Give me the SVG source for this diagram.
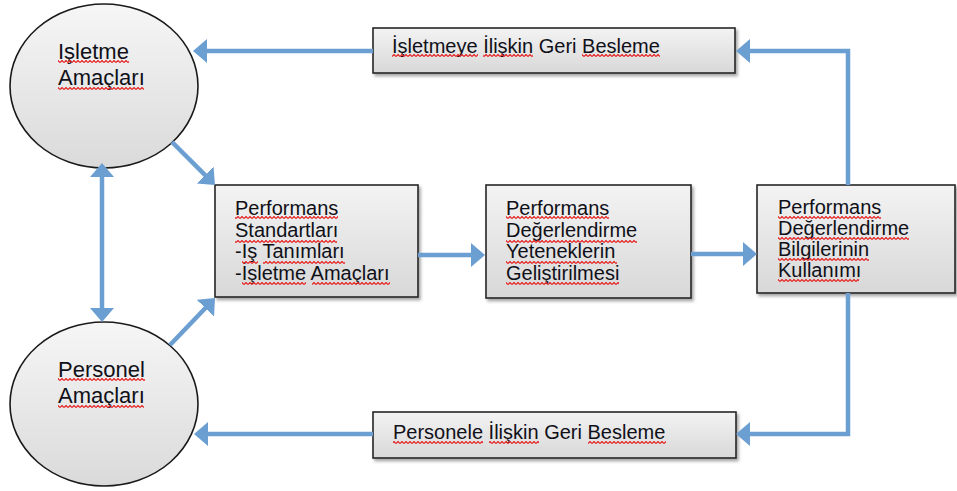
<svg xmlns="http://www.w3.org/2000/svg" width="957" height="491" viewBox="0 0 957 491">
<defs>
<linearGradient id="gEll" x1="0" y1="0" x2="0" y2="1">
<stop offset="0" stop-color="#f6f6f6"/><stop offset="1" stop-color="#dadada"/>
</linearGradient>
<linearGradient id="gBox" x1="0" y1="0" x2="0" y2="1">
<stop offset="0" stop-color="#f3f3f3"/><stop offset="1" stop-color="#d8d8d8"/>
</linearGradient>
<filter id="sh" x="-10%" y="-10%" width="130%" height="140%">
<feDropShadow dx="2" dy="2.5" stdDeviation="1.5" flood-color="#000" flood-opacity="0.35"/>
</filter>
<pattern id="sq" patternUnits="userSpaceOnUse" width="4" height="3">
<path d="M0,2.5 L2,0.5 L4,2.5" fill="none" stroke="#e52222" stroke-width="1.2"/>
</pattern>
<marker id="ah" markerUnits="userSpaceOnUse" markerWidth="16" markerHeight="26" refX="4" refY="12" orient="auto-start-reverse">
<path d="M0,0 L14,12 L0,24 Z" fill="#6b9fd2"/>
</marker>
</defs>
<style>
.ell{fill:url(#gEll);stroke:#1a1a1a;stroke-width:1.6}
.box{fill:url(#gBox);stroke:#262626;stroke-width:1.6;filter:url(#sh)}
.t{font-family:"Liberation Sans",Arial,sans-serif;font-size:20px;fill:#101018}
.te{font-family:"Liberation Sans",Arial,sans-serif;font-size:22px;fill:#101018}
.sq{fill:url(#sq)}
.c{fill:none;stroke:#6b9fd2;stroke-width:4.5;marker-end:url(#ah)}
</style>

<g id="isletme-amaclari">
<ellipse class="ell" cx="104" cy="86" rx="94" ry="82"/>
<text class="te" x="58" y="59">Işletme</text>
<text class="te" x="58" y="85">Amaçları</text>
<rect class="sq" x="58" y="60" width="71" height="3"/>
<rect class="sq" x="58" y="87" width="86" height="3"/>
</g>

<g id="personel-amaclari">
<ellipse class="ell" cx="104" cy="404" rx="94" ry="82"/>
<text class="te" x="58" y="377">Personel</text>
<text class="te" x="58" y="403">Amaçları</text>
<rect class="sq" x="58" y="378" width="87" height="3"/>
<rect class="sq" x="58" y="405" width="86" height="3"/>
</g>

<g id="isletme-geri-besleme">
<rect class="box" x="373" y="28" width="362" height="45"/>
<text class="t" x="392" y="53">İşletmeye İlişkin Geri Besleme</text>
<rect class="sq" x="392" y="54" width="86" height="3"/>
<rect class="sq" x="483" y="54" width="50" height="3"/>
<rect class="sq" x="582" y="54" width="78" height="3"/>
</g>

<g id="personel-geri-besleme">
<rect class="box" x="373" y="412" width="363" height="46"/>
<text class="t" x="393" y="439">Personele İlişkin Geri Besleme</text>
<rect class="sq" x="393" y="441" width="90" height="3"/>
<rect class="sq" x="489" y="441" width="50" height="3"/>
<rect class="sq" x="588" y="441" width="78" height="3"/>
</g>

<g id="performans-standartlari">
<rect class="box" x="215" y="185" width="203" height="112"/>
<text class="t" x="235" y="215">Performans</text>
<text class="t" x="235" y="237">Standartları</text>
<text class="t" x="235" y="258">-Iş Tanımları</text>
<text class="t" x="235" y="280">-İşletme Amaçları</text>
<rect class="sq" x="235" y="216" width="103" height="3"/>
<rect class="sq" x="235" y="240" width="102" height="3"/>
<rect class="sq" x="242" y="261" width="16" height="3"/>
<rect class="sq" x="263" y="261" width="82" height="3"/>
<rect class="sq" x="242" y="282" width="64" height="3"/>
<rect class="sq" x="312" y="282" width="78" height="3"/>
</g>

<g id="degerlendirme-yetenekleri">
<rect class="box" x="486" y="185" width="205" height="113"/>
<text class="t" x="506" y="215">Performans</text>
<text class="t" x="506" y="237">Değerlendirme</text>
<text class="t" x="506" y="258">Yeteneklerin</text>
<text class="t" x="506" y="280">Geliştirilmesi</text>
<rect class="sq" x="506" y="216" width="103" height="3"/>
<rect class="sq" x="506" y="240" width="131" height="3"/>
<rect class="sq" x="506" y="261" width="111" height="3"/>
<rect class="sq" x="506" y="282" width="113" height="3"/>
</g>

<g id="bilgilerin-kullanimi">
<rect class="box" x="757" y="185" width="198" height="108"/>
<text class="t" x="778" y="214">Performans</text>
<text class="t" x="778" y="235">Değerlendirme</text>
<text class="t" x="778" y="256">Bilgilerinin</text>
<text class="t" x="778" y="277">Kullanımı</text>
<rect class="sq" x="778" y="216" width="103" height="3"/>
<rect class="sq" x="778" y="237" width="131" height="3"/>
<rect class="sq" x="778" y="258" width="91" height="3"/>
<rect class="sq" x="778" y="279" width="81" height="3"/>
</g>

<g id="connectors">
<path class="c" d="M373,51 L203,51"/>
<path class="c" d="M848,185 L848,51 L746,51"/>
<path class="c" d="M848,293 L848,434 L746,434"/>
<path class="c" d="M373,434 L204,434"/>
<path class="c" d="M172,142 L207.9,177.9"/>
<path class="c" d="M170,345 L208.1,305.2"/>
<path class="c" d="M102,173 L102,312" marker-start="url(#ah)"/>
<path class="c" d="M418,255 L475,255"/>
<path class="c" d="M691,254 L747,254"/>
</g>
</svg>
